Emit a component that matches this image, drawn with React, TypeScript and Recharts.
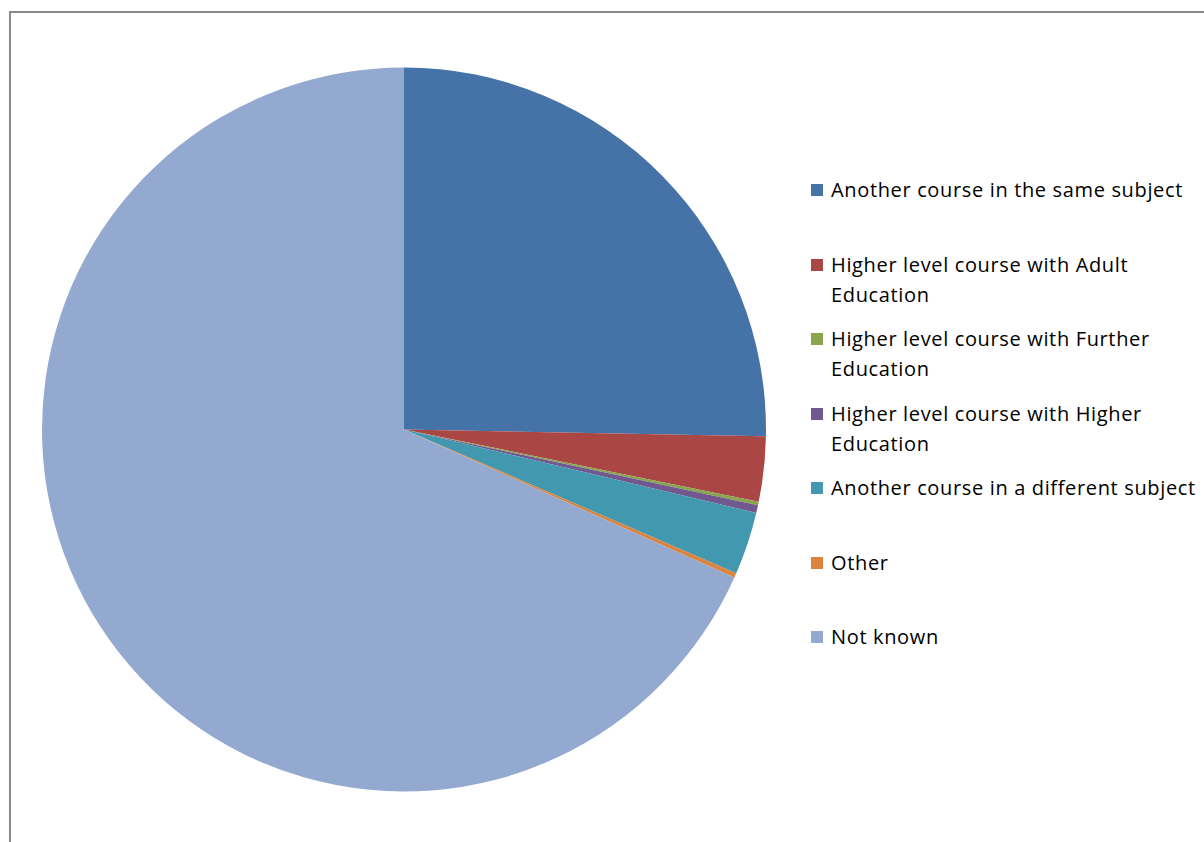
import React from "react";
import { PieChart, Pie, Cell, Legend } from "recharts";

const categories = [
  "Another course in the same subject",
  "Higher level course with Adult Education",
  "Higher level course with Further Education",
  "Higher level course with Higher Education",
  "Another course in a different subject",
  "Other",
  "Not known",
];
const values = [25.3, 2.9, 0.15, 0.35, 2.8, 0.2, 68.3];
const colors = ["#4572A7", "#AA4643", "#89A54E", "#71588F", "#4198AF", "#DB843D", "#93A9CF"];

const data = categories.map((name, i) => ({ name, value: values[i] }));

const FONT = "'Open Sans', 'Noto Sans', sans-serif";

const renderLegend = () => {
  return (
    <div style={{ position: "relative", width: 392, height: 520 }}>
      {categories.map((name, i) => (
        <div
          key={name}
          style={{
            position: "absolute",
            left: 0,
            top: i * 74.5,
            display: "flex",
            alignItems: "flex-start",
          }}
        >
          <div
            style={{
              width: 12,
              height: 12,
              background: colors[i],
              marginTop: 9,
              marginRight: 8,
              flex: "none",
            }}
          />
          <div
            style={{
              width: 372,
              fontFamily: FONT,
              fontSize: 20,
              lineHeight: "30px",
              color: "#000",
              letterSpacing: 0.65,
            }}
          >
            {name}
          </div>
        </div>
      ))}
    </div>
  );
};

export default function App() {
  return (
    <div
      style={{
        position: "absolute",
        left: 0,
        top: 0,
        width: 1204,
        height: 842,
        overflow: "hidden",
        background: "#fff",
      }}
    >
      <div
        style={{
          position: "absolute",
          left: 9,
          top: 11,
          width: 1300,
          height: 900,
          borderLeft: "2px solid #8a8a8a",
          borderTop: "2px solid #8a8a8a",
        }}
      />
      <div style={{ position: "absolute", left: 0, top: 0 }}>
        <PieChart width={1204} height={842} margin={{ top: 0, right: 0, bottom: 0, left: 0 }}>
          <Pie
            data={data}
            dataKey="value"
            nameKey="name"
            cx={404}
            cy={429.5}
            outerRadius={362}
            startAngle={90}
            endAngle={-270}
            stroke="none"
            isAnimationActive={false}
            legendType="square"
          >
            {data.map((d, i) => (
              <Cell key={d.name} fill={colors[i]} />
            ))}
          </Pie>
          <Legend
            content={renderLegend}
            wrapperStyle={{ position: "absolute", left: 811, top: 175, width: 392 }}
          />
        </PieChart>
      </div>
    </div>
  );
}
